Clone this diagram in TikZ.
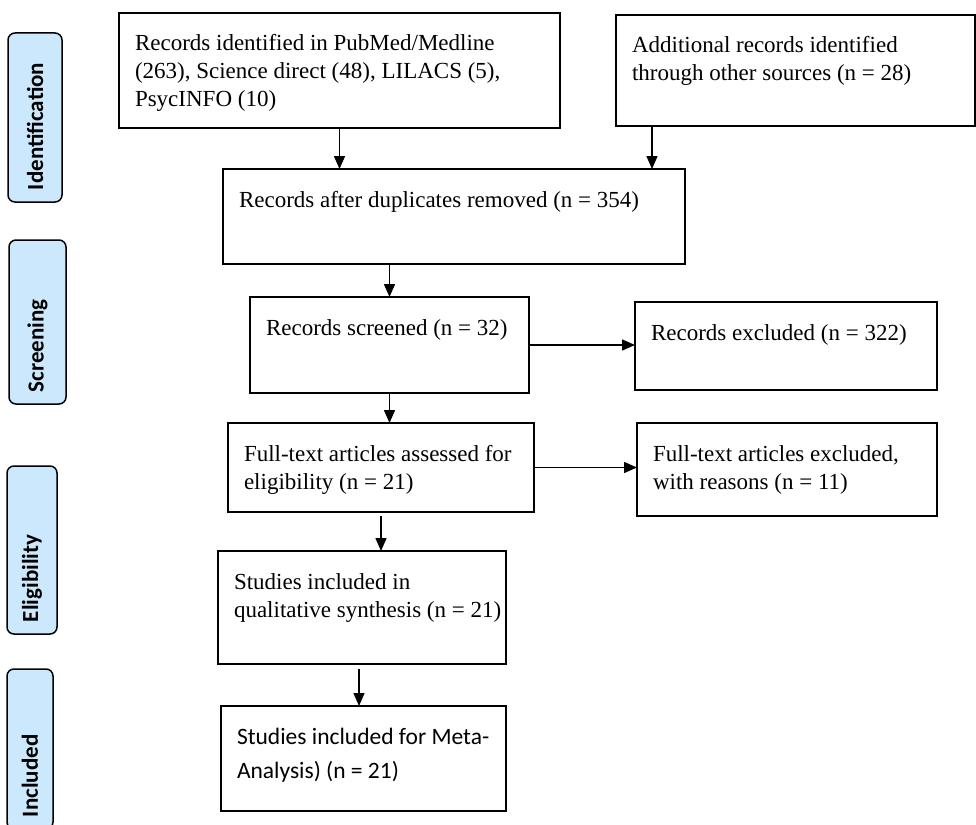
\documentclass[tikz,border=0pt]{standalone}
\usepackage{fontspec}
\setmainfont{Liberation Serif}
\newfontfamily\calibri{Carlito}
\usetikzlibrary{arrows.meta}

\definecolor{phaseblue}{RGB}{204,232,252}

% text sits at the top left of each box
\newcommand{\boxtext}[3]{\parbox[c][#2][t]{#1}{\raggedright\leftskip=16pt\rule{0pt}{38pt}#3}}

\tikzset{
	box/.style={draw, line width=1.5pt, inner sep=0pt, outer sep=0pt, anchor=north west,
		font=\fontsize{23}{28}\selectfont},
	phase/.style={draw, line width=1.5pt, fill=phaseblue, rounded corners=7pt, rotate=90,
		inner ysep=0pt, inner xsep=12pt, align=left,
		font=\calibri\bfseries\fontsize{23}{27}\selectfont},
	>={Triangle[length=13pt,width=11pt]}
}

\begin{document}
\begin{tikzpicture}[x=1pt, y=-1pt, line width=1.5pt]
	\useasboundingbox[fill=white] (0,0) rectangle (976,824);
	
	% phases
	\node[phase, minimum width=169pt, minimum height=54pt, text width=145pt] (ident) at (35,117.5) {Identification};
	\node[phase, minimum width=164pt, minimum height=57pt, text width=140pt] (screen) at (37.5,322) {Screening};
	\node[phase, minimum width=168pt, minimum height=50pt, text width=144pt] (elig) at (32,550) {Eligibility};
	\node[phase, minimum width=160pt, minimum height=46pt, text width=136pt] (incl) at (30,749) {Included};
	
	% boxes
	\node[box] (recs) at (119,13) {\boxtext{441pt}{115pt}{Records identified in PubMed/Medline\\ (263), Science direct (48), LILACS (5),\\ PsycINFO (10)}};
	\node[box] (other) at (616,15) {\boxtext{359pt}{111pt}{Additional records identified\\ through other sources (n = 28)}};
	\node[box] (dup) at (223,169) {\boxtext{462pt}{95pt}{Records after duplicates removed (n = 354)}};
	\node[box] (screened) at (250,297) {\boxtext{279pt}{96pt}{Records screened (n = 32)}};
	\node[box] (excl) at (635,302) {\boxtext{302pt}{88pt}{Records excluded (n = 322)}};
	\node[box] (fulltext) at (228,423) {\boxtext{306pt}{89pt}{Full-text articles assessed for\\ eligibility (n = 21)}};
	\node[box] (ftexcl) at (637,423) {\boxtext{300pt}{93pt}{Full-text articles excluded,\\ with reasons (n = 11)}};
	\node[box] (qual) at (218,551) {\boxtext{288pt}{113pt}{Studies included in\\ qualitative synthesis (n = 21)}};
	\node[box, font=\calibri\fontsize{23.5}{34}\selectfont] (meta) at (221,706) {\boxtext{285pt}{105pt}{Studies included for Meta-\\ Analysis) (n = 21)}};
	
	% arrows
	\draw[->] (recs.south) -- (recs.south |- dup.north);
	\draw[->] ([xshift=36pt]other.south west) -- ([xshift=36pt]other.south west |- dup.north);
	\draw[->] (screened.north |- dup.south) -- (screened.north);
	\draw[->] (screened.east) -- (screened.east -| excl.west);
	\draw[->] (screened.south) -- (screened.south |- fulltext.north);
	\draw[->] (fulltext.east) -- (fulltext.east -| ftexcl.west);
	\draw[->, shorten <=4pt] (fulltext.south) -- (fulltext.south |- qual.north);
	\draw[->, shorten <=5pt] ([xshift=-3pt]qual.south) -- ([xshift=-3pt]qual.south |- meta.north);
\end{tikzpicture}
\end{document}
